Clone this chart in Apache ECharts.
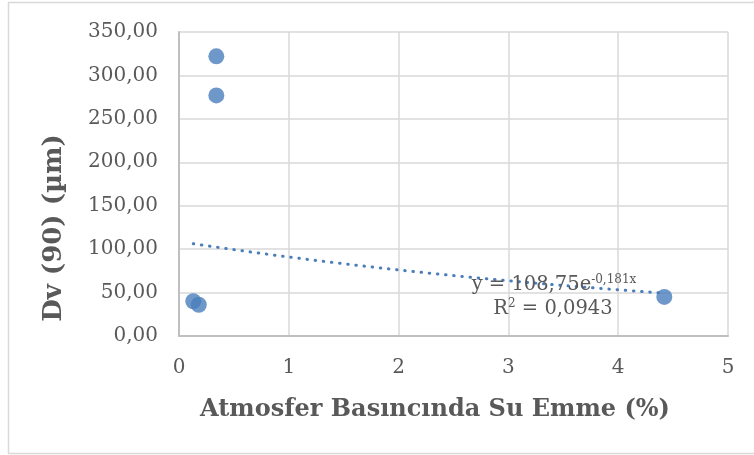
<!DOCTYPE html>
<html><head><meta charset="utf-8">
<script src="https://cdn.jsdelivr.net/npm/echarts@6/dist/echarts.min.js"></script>
<style>html,body{margin:0;padding:0;background:#fff}#c{width:754px;height:455px}</style>
</head><body><div id="c"></div>
<script>
var xValues = [0.34, 0.34, 0.13, 0.18, 4.42];
var yValues = [322, 277, 40, 36, 45];
var xTicks = [0, 1, 2, 3, 4, 5];
var yTicks = [0, 50, 100, 150, 200, 250, 300, 350];
var xTitle = 'Atmosfer Basıncında Su Emme (%)';
var yTitle = 'Dv (90) (µm)';
var eqCoef = '108,75';
var eqExp = '-0,181x';
var r2Text = '0,0943';

var pts = xValues.map(function(x, i){ return [x, yValues[i]]; });
// exponential least-squares fit (as the spreadsheet trendline does)
var n = pts.length, mx = 0, my = 0;
pts.forEach(function(p){ mx += p[0]; my += Math.log(p[1]); });
mx /= n; my /= n;
var sxy = 0, sxx = 0;
pts.forEach(function(p){ sxy += (p[0]-mx)*(Math.log(p[1])-my); sxx += (p[0]-mx)*(p[0]-mx); });
var b = sxy / sxx, a = Math.exp(my - b*mx);
var xmin = Math.min.apply(null, xValues), xmax = Math.max.apply(null, xValues);
var trend = [];
for (var i = 0; i <= 40; i++) { var x = xmin + (xmax-xmin)*i/40; trend.push([x, a*Math.exp(b*x)]); }

var F = 'DejaVu Serif';
var chart = echarts.init(document.getElementById('c'));
chart.setOption({
  animation: false,
  backgroundColor: '#fff',
  grid: { left: 179, right: 26, top: 32, bottom: 119 },
  xAxis: {
    type: 'value', min: 0, max: 5, interval: 1,
    axisLine: { show: true, onZero: false, lineStyle: { color: '#bfbfbf', width: 2 } },
    axisTick: { show: false },
    splitLine: { show: true, lineStyle: { color: '#d9d9d9', width: 1.5 } },
    axisLabel: { color: '#595959', fontFamily: F, fontSize: 20, margin: 22, formatter: function(v){ return String(v); } }
  },
  yAxis: {
    type: 'value', min: 0, max: 350, interval: 50,
    axisLine: { show: true, lineStyle: { color: '#bfbfbf', width: 2 } },
    axisTick: { show: false },
    splitLine: { show: true, lineStyle: { color: '#d9d9d9', width: 1.5 } },
    axisLabel: { color: '#595959', fontFamily: F, fontSize: 20, margin: 21, formatter: function(v){ return v.toFixed(2).replace('.', ','); } }
  },
  series: [
    { type: 'line', data: trend, showSymbol: false, symbol: 'none', z: 3,
      lineStyle: { color: '#4a7ebb', width: 3, type: [0.5, 7.7], cap: 'round' } },
    { type: 'scatter', data: pts, symbolSize: 16, z: 4,
      itemStyle: { color: '#4a7ebb', borderColor: '#4a7ebb', borderWidth: 0 } }
  ],
  graphic: [
    { type: 'rect', shape: { x: 8.5, y: 2.5, width: 800, height: 451 }, style: { fill: 'none', stroke: '#d9d9d9', lineWidth: 1.5 }, silent: true },
    { type: 'text', x: 435, y: 410, style: { text: xTitle, align: 'center', verticalAlign: 'middle',
        fontFamily: F, fontWeight: 'bold', fontSize: 24, fill: '#595959' } },
    { type: 'text', x: 54, y: 228, rotation: Math.PI/2, style: { text: yTitle, align: 'center', verticalAlign: 'middle',
        fontFamily: F, fontWeight: 'bold', fontSize: 26, fill: '#595959' } },
    { type: 'text', x: 554, y: 285, style: {
        text: '{m|y = ' + eqCoef + 'e}{s|' + eqExp + '}',
        align: 'center', verticalAlign: 'middle',
        rich: { m: { fontFamily: F, fontSize: 19.5, fill: '#595959' }, s: { fontFamily: F, fontSize: 12, fill: '#595959', verticalAlign: 'top', padding: [0,0,10,0] } } }, z: 10 },
    { type: 'text', x: 553, y: 309, style: {
        text: '{m|R}{s|2}{m| = ' + r2Text + '}',
        align: 'center', verticalAlign: 'middle',
        rich: { m: { fontFamily: F, fontSize: 19.5, fill: '#595959' }, s: { fontFamily: F, fontSize: 12, fill: '#595959', verticalAlign: 'top', padding: [0,0,10,0] } } }, z: 10 }
  ]
});
</script></body></html>
